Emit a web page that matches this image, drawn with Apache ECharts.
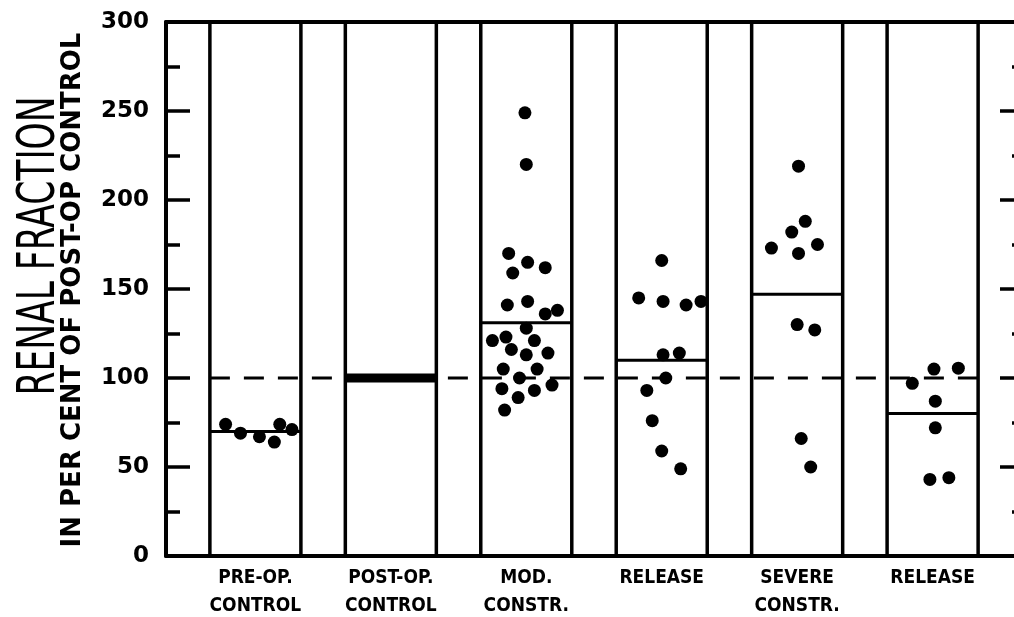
<!DOCTYPE html>
<html>
<head>
<meta charset="utf-8">
<script src="https://cdn.jsdelivr.net/npm/echarts@6/dist/echarts.min.js"></script>
<style>
html,body{margin:0;padding:0;background:#fff;}
#chart{width:1014px;height:617px;}
</style>
</head>
<body>
<div id="chart"></div>
<script>
// ---- data ----
const categories = ['PRE-OP.\nCONTROL', 'POST-OP.\nCONTROL', 'MOD.\nCONSTR.', 'RELEASE', 'SEVERE\nCONSTR.', 'RELEASE'];
const groupMeans = [70, 100, 131, 110, 147, 80];
const yTicks = [0, 50, 100, 150, 200, 250, 300];
const referenceLevel = 100;

// individual observations per group (values) and their horizontal jitter within the column
const preOpValues   = [74, 69, 67, 64, 74, 71];
const preOpJitter   = [-0.22, -0.11, 0.03, 0.14, 0.18, 0.27];
const postOpValues  = [];
const postOpJitter  = [];
const modValues     = [249, 220, 170, 165, 162, 159, 141, 143, 136, 138, 128, 121, 123, 121, 116, 113, 114, 105, 105, 100, 96, 94, 93, 89, 82];
const modJitter     = [-0.01, 0.00, -0.13, 0.01, 0.14, -0.10, -0.14, 0.01, 0.14, 0.23, 0.00, -0.25, -0.15, 0.06, -0.11, 0.00, 0.16, -0.17, 0.08, -0.05, 0.19, -0.18, 0.06, -0.06, -0.16];
const release1Values = [166, 145, 143, 141, 143, 113, 114, 100, 93, 76, 59, 49];
const release1Jitter = [0.00, -0.17, 0.01, 0.18, 0.29, 0.01, 0.13, 0.03, -0.11, -0.07, 0.00, 0.14];
const severeValues  = [219, 188, 182, 173, 170, 175, 130, 127, 66, 50];
const severeJitter  = [0.01, 0.06, -0.04, -0.19, 0.01, 0.15, 0.00, 0.13, 0.03, 0.10];
const release2Values = [105, 105.5, 97, 87, 72, 43, 44];
const release2Jitter = [0.01, 0.19, -0.15, 0.02, 0.02, -0.02, 0.12];

// ---- build series data ----
const groupValues = [preOpValues, postOpValues, modValues, release1Values, severeValues, release2Values];
const groupJitter = [preOpJitter, postOpJitter, modJitter, release1Jitter, severeJitter, release2Jitter];
const points = [];
groupValues.forEach((vals, gi) => {
  vals.forEach((v, k) => points.push([gi + 1 + groupJitter[gi][k], v]));
});
const columnData = groupMeans.map((m, i) => [i + 1, m]);

const HALF = 0.336;        // half column width in category units
const THICK_INDEX = 1;     // post-op control drawn with a heavy line
const FONT = '"DejaVu Sans", sans-serif';
const LABEL_FONT = '"DejaVu Sans Condensed", "DejaVu Sans", sans-serif';

const chart = echarts.init(document.getElementById('chart'), null, {renderer: 'canvas'});

const option = {
  backgroundColor: '#fff',
  animation: false,
  grid: {left: 166, right: -8, top: 22, bottom: 61, containLabel: false, outerBoundsMode: 'none'},
  xAxis: [{
    type: 'value',
    min: 1 - 0.66,
    max: 6 + 0.66,
    axisLine: {show: true, onZero: false, lineStyle: {color: '#000', width: 4}},
    axisTick: {show: false},
    splitLine: {show: false},
    axisLabel: {
      customValues: [1, 2, 3, 4, 5, 6],
      formatter: v => categories[Math.round(v) - 1],
      color: '#000',
      fontFamily: LABEL_FONT,
      fontWeight: 'bold',
      fontSize: 19,
      lineHeight: 28,
      margin: 8,
      verticalAlign: 'top'
    }
  }, {
    type: 'value',
    position: 'top',
    min: 1 - 0.66,
    max: 6 + 0.66,
    axisLine: {show: true, onZero: false, lineStyle: {color: '#000', width: 4}},
    axisTick: {show: false},
    axisLabel: {show: false},
    splitLine: {show: false}
  }],
  yAxis: [{
    type: 'value',
    min: 0, max: 300, interval: 50,
    position: 'left',
    axisLine: {show: true, onZero: false, lineStyle: {color: '#000', width: 4}},
    axisTick: {show: true, inside: true, length: 24, lineStyle: {color: '#000', width: 3.5}},
    minorTick: {show: true, splitNumber: 2, length: 14, lineStyle: {color: '#000', width: 3.5}},
    splitLine: {show: false},
    axisLabel: {
      color: '#000', fontFamily: FONT, fontWeight: 'bold', fontSize: 23, margin: 17,
      customValues: yTicks, formatter: v => String(v)
    }
  }, {
    type: 'value',
    min: 0, max: 300, interval: 50,
    position: 'right',
    axisLine: {show: true, onZero: false, lineStyle: {color: '#000', width: 4}},
    axisTick: {show: true, inside: true, length: 22, lineStyle: {color: '#000', width: 3.5}},
    minorTick: {show: true, splitNumber: 2, length: 10, lineStyle: {color: '#000', width: 3.5}},
    splitLine: {show: false},
    axisLabel: {show: false}
  }],
  graphic: [{
    type: 'text',
    x: 41, y: 246,
    rotation: Math.PI / 2,
    scaleY: 1.5,
    style: {
      text: 'RENAL FRACTION',
      fontFamily: FONT, fontSize: 34.5, fontWeight: 'normal',
      fill: '#000', align: 'center', verticalAlign: 'middle'
    }
  }, {
    type: 'text',
    x: 73, y: 290,
    rotation: Math.PI / 2,
    style: {
      text: 'IN PER CENT OF POST-OP CONTROL',
      fontFamily: FONT, fontSize: 26, fontWeight: 'bold',
      fill: '#000', align: 'center', verticalAlign: 'middle'
    }
  }],
  series: [{
    type: 'custom',
    data: columnData,
    z: 2,
    clip: false,
    renderItem: function (params, api) {
      const c = api.value(0);
      const m = api.value(1);
      const bl = api.coord([c - HALF, 0]);
      const tl = api.coord([c - HALF, 300]);
      const br = api.coord([c + HALF, 0]);
      const tr = api.coord([c + HALF, 300]);
      const ml = api.coord([c - HALF, m]);
      const mr = api.coord([c + HALF, m]);
      const thick = params.dataIndex === THICK_INDEX;
      return {
        type: 'group',
        children: [
          {type: 'line', shape: {x1: bl[0], y1: bl[1], x2: tl[0], y2: tl[1]}, style: {stroke: '#000', lineWidth: 3.5}},
          {type: 'line', shape: {x1: br[0], y1: br[1], x2: tr[0], y2: tr[1]}, style: {stroke: '#000', lineWidth: 3.5}},
          {type: 'line', shape: {x1: ml[0], y1: ml[1], x2: mr[0], y2: mr[1]}, style: {stroke: '#000', lineWidth: thick ? 9 : 3}}
        ]
      };
    }
  }, {
    type: 'line',
    data: [[1 - HALF, referenceLevel], [6 + HALF, referenceLevel]],
    symbol: 'none',
    z: 1,
    lineStyle: {color: '#000', width: 3, type: [20, 14]},
    silent: true
  }, {
    type: 'scatter',
    data: points,
    symbol: 'circle',
    symbolSize: 13,
    z: 3,
    itemStyle: {color: '#000', opacity: 1},
    silent: true
  }]
};
chart.setOption(option);
</script>
</body>
</html>
